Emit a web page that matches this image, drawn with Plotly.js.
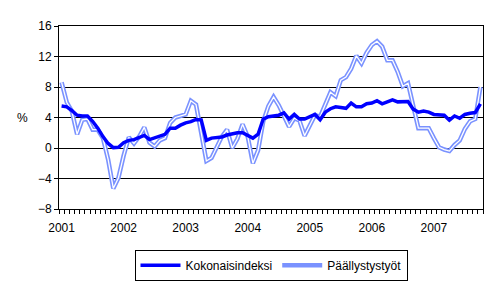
<!DOCTYPE html>
<html>
<head>
<meta charset="utf-8">
<script src="https://cdn.plot.ly/plotly-3.0.1.min.js"></script>
<style>html,body{margin:0;padding:0;background:#fff;}#chart{width:499px;height:281px;}</style>
</head>
<body>
<div id="chart"></div>
<script>
// Monthly index 0 = Jan 2001 ... 81 = Oct 2007
const yearLabels = ["2001","2002","2003","2004","2005","2006","2007"];
const seriesNames = ["Kokonaisindeksi","Päällystystyöt"];
const kokonaisindeksi = [
  5.5,5.4,4.9,4.3,4.2,4.2,3.5,2.6,1.5,0.6,0.05,0.1,
  0.7,1.0,1.1,1.35,1.65,1.1,1.3,1.6,1.8,2.6,2.6,3.0,
  3.3,3.45,3.75,3.7,1.0,1.3,1.35,1.45,1.7,1.9,2.0,2.0,
  1.7,1.3,1.8,3.8,4.1,4.2,4.3,4.6,3.8,4.4,3.8,3.8,
  4.1,4.4,3.7,4.7,5.15,5.4,5.3,5.2,5.9,5.4,5.4,5.8,
  5.9,6.2,5.8,6.1,6.3,6.05,6.05,6.1,5.1,4.7,4.85,4.7,
  4.4,4.35,4.3,3.65,4.2,3.9,4.4,4.55,4.65,5.8
];
const paallystystyot = [
  8.6,6.0,4.8,1.8,3.7,3.8,2.4,2.4,1.3,-1.5,-5.3,-3.9,
  -1.0,1.4,0.6,1.5,2.7,0.7,0.2,1.0,1.3,3.3,4.0,4.2,
  4.4,6.2,5.7,2.0,-1.7,-1.3,0.0,1.5,2.4,0.0,1.2,3.1,
  1.5,-2.0,-0.3,3.5,5.5,6.7,5.6,4.3,2.8,3.9,3.6,1.6,
  3.0,4.3,4.1,5.8,7.3,6.8,8.9,9.3,10.4,12.1,11.1,12.5,
  13.5,14.0,13.3,11.5,11.5,10.0,8.1,8.5,5.5,2.6,2.6,2.6,
  1.3,0.1,-0.2,-0.4,0.4,1.0,2.5,3.5,3.8,8.0
];
const months = kokonaisindeksi.map((_, i) => i);
const yearTickVals = yearLabels.map((_, k) => k * 12);

const traces = [
  {x: months, y: paallystystyot, type: 'scatter', mode: 'lines', name: seriesNames[1],
   line: {color: '#7a92ff', width: 4.5}, legendrank: 2},
  {x: months, y: paallystystyot, type: 'scatter', mode: 'lines', showlegend: false, hoverinfo: 'skip',
   line: {color: '#ffffff', width: 1.3}},
  {x: months, y: kokonaisindeksi, type: 'scatter', mode: 'lines', name: seriesNames[0],
   line: {color: '#0000ff', width: 3.5}, legendrank: 1}
];

const layout = {
  width: 499, height: 281,
  margin: {l: 59, r: 16, t: 26, b: 72, autoexpand: false},
  paper_bgcolor: '#fff', plot_bgcolor: '#fff',
  font: {family: 'Liberation Sans, Arial, sans-serif', size: 12, color: '#000'},
  showlegend: true,
  xaxis: {
    range: [-0.5, 81.5], showgrid: false, zeroline: false,
    showline: true, linecolor: '#000', linewidth: 1, mirror: true,
    tickmode: 'array', tickvals: yearTickVals, ticktext: yearLabels,
    ticks: 'outside', ticklen: 4, tickcolor: 'rgba(0,0,0,0)', ticklabelstandoff: 4,
    minor: {ticks: 'outside', tick0: -0.5, dtick: 1, ticklen: 4, tickcolor: '#000', tickwidth: 1, showgrid: false},
    fixedrange: true
  },
  yaxis: {
    range: [-8, 16], dtick: 4, tick0: -8, tickmode: 'linear',
    showgrid: true, gridcolor: '#000', gridwidth: 1,
    zeroline: true, zerolinecolor: '#000', zerolinewidth: 1,
    showline: true, linecolor: '#000', linewidth: 1, mirror: true,
    ticks: 'outside', ticklen: 4, tickcolor: '#000',
    fixedrange: true
  },
  annotations: [{
    text: '%', xref: 'paper', yref: 'y', x: -0.086, y: 4, showarrow: false,
    xanchor: 'center', yanchor: 'middle', font: {size: 12, color: '#000'}
  }],
  legend: {
    orientation: 'h', x: 0.5, xanchor: 'center', y: -0.222, yanchor: 'top',
    bordercolor: '#000', borderwidth: 1, bgcolor: '#fff',
    itemwidth: 40, font: {size: 12, color: '#000'}, traceorder: 'normal'
  }
};

Plotly.newPlot('chart', traces, layout, {displayModeBar: false, staticPlot: true});
</script>
</body>
</html>
